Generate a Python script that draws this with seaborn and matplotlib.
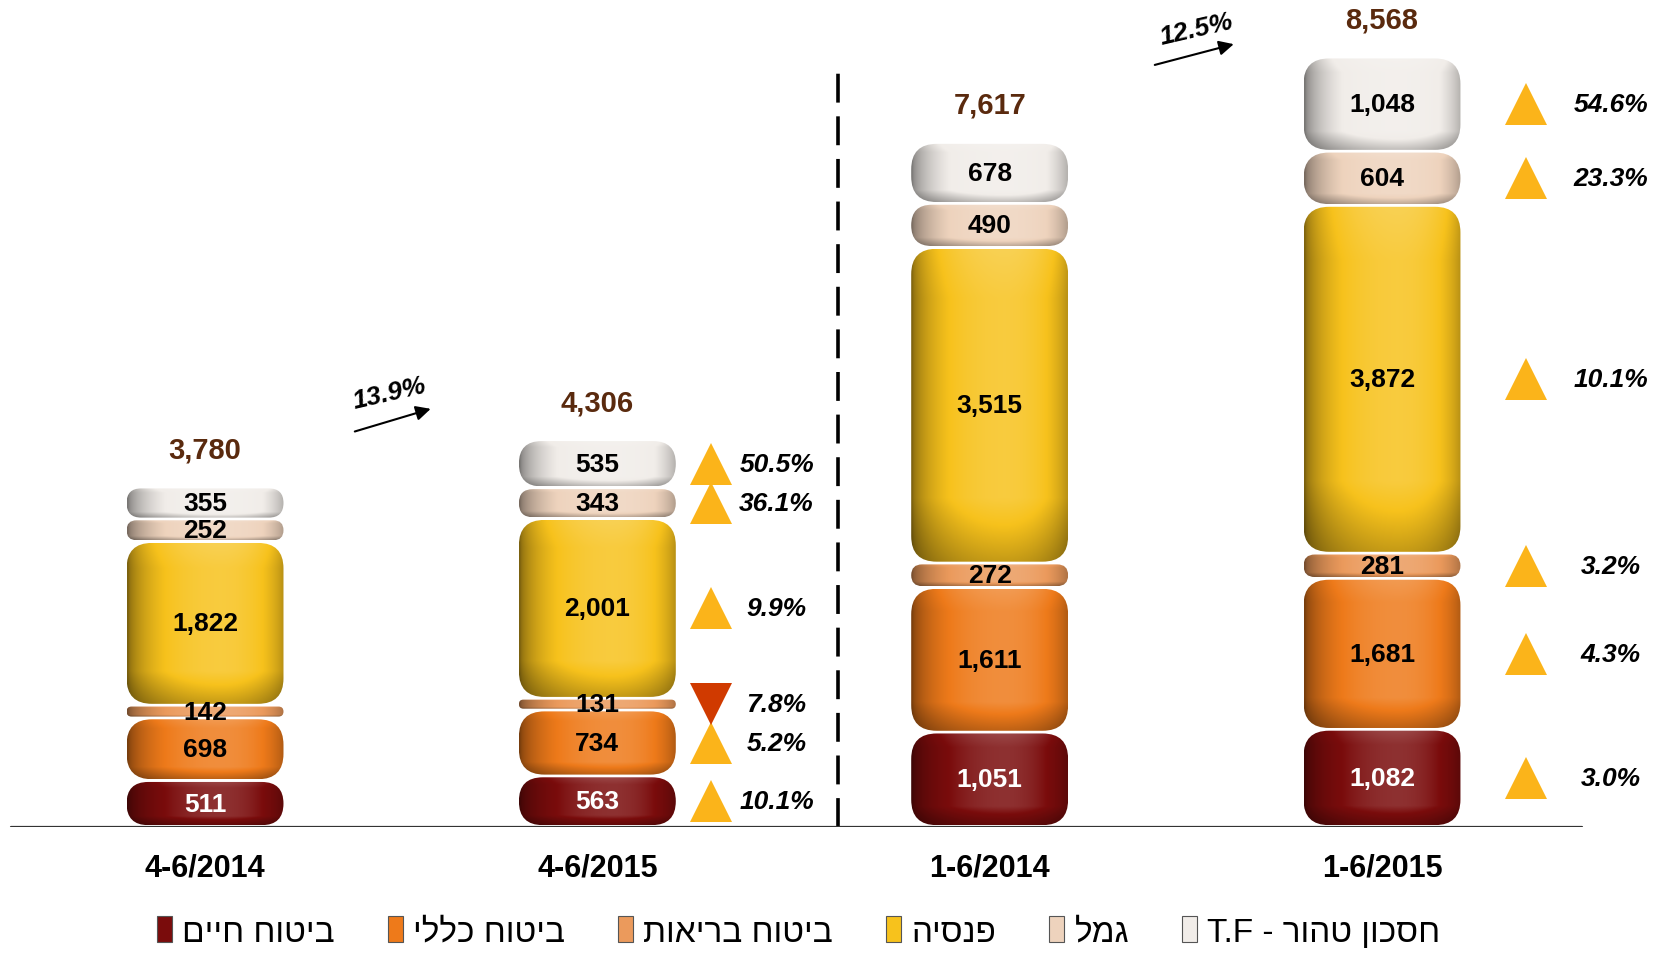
import re
import numpy as np
import matplotlib
matplotlib.use('Agg')
import matplotlib.pyplot as plt
import seaborn as sns
from matplotlib.patches import FancyBboxPatch, Patch
from matplotlib.colors import to_rgb

# data
periods = ['4-6/2014', '4-6/2015', '1-6/2014', '1-6/2015']
series = ['ביטוח חיים', 'ביטוח כללי', 'ביטוח בריאות', 'פנסיה', 'גמל', 'חסכון טהור - T.F']
life = [511, 563, 1051, 1082]
general = [698, 734, 1611, 1681]
health = [142, 131, 272, 281]
pension = [1822, 2001, 3515, 3872]
provident = [252, 343, 490, 604]
savings = [355, 535, 678, 1048]
totals = [3780, 4306, 7617, 8568]
growth = ['13.9%', '12.5%']
change_q = [10.1, 5.2, -7.8, 9.9, 36.1, 50.5]    # 4-6/2015 vs 4-6/2014
change_h = [3.0, 4.3, 3.2, 10.1, 23.3, 54.6]     # 1-6/2015 vs 1-6/2014

colors = ['#7a0c0c', '#ee7a1a', '#eb9a5c', '#f7c21c', '#eed3bd', '#f1ede9']
label_colors = ['white', 'black', 'black', 'black', 'black', 'black']

sns.set_theme(style='white')
plt.rcParams['font.family'] = ['Liberation Sans', 'DejaVu Sans']
plt.rcParams['text.color'] = 'black'


def visual(s):
    # simple bidi: reverse hebrew, keep latin/digit runs in order
    r = s[::-1]
    return re.sub(r'[A-Za-z0-9.%]+', lambda m: m.group(0)[::-1], r)


def shade_img(color, n=80):
    c = np.array(to_rgb(color))
    t = np.linspace(0, 1, n)
    d = np.where(t < 0.6, (t - 0.6) / 0.6, (t - 0.6) / 0.45)
    m = 0.5 + 0.65 * np.clip(1 - d ** 2, 0, 1) ** 0.6
    v = np.linspace(0, 1, n)
    vm = 1 - 0.3 * np.clip(1 - v / 0.2, 0, 1) + 0.08 * np.clip((v - 0.85) / 0.15, 0, 1)
    M = (vm[:, None] * m[None, :])[..., None]
    img = np.where(M <= 1, c * M, c + (1 - c) * (M - 1))
    return np.clip(img, 0, 1)


W, H = 1657, 954
fig = plt.figure(figsize=(W / 100, H / 100), dpi=100)
base_px = 827.5
ax = fig.add_axes([0, (H - base_px) / H, 1, base_px / H])
xlim = (-0.5226, 3.701)
ylim = (0, 9215)

x = np.arange(len(periods))
layers = [life, general, health, pension, provident, savings]

px_x = W / (xlim[1] - xlim[0])
px_y = base_px / (ylim[1] - ylim[0])
aspect = px_x / px_y
r_round = 0.065
gap = 15

bottom = np.zeros(len(periods))
for k, (vals, col) in enumerate(zip(layers, colors)):
    bars = ax.bar(x, vals, bottom=bottom, width=0.4, color=col)
    img = shade_img(col)
    for rect, v in zip(bars, vals):
        rect.set_visible(False)
        x0, y0, w, h = rect.get_x(), rect.get_y(), rect.get_width(), rect.get_height()
        y0g, hg = y0 + gap, h - 2 * gap
        r = min(r_round, (hg / aspect) / 2, w / 2)
        patch = FancyBboxPatch((x0, y0g), w, hg,
                               boxstyle=f'round,pad=0,rounding_size={r}',
                               mutation_aspect=aspect, facecolor='none',
                               edgecolor='none', zorder=2)
        ax.add_patch(patch)
        im = ax.imshow(img, extent=(x0, x0 + w, y0g, y0g + hg), origin='lower',
                       aspect='auto', interpolation='bilinear', zorder=2)
        im.set_clip_path(patch)
        ax.text(x0 + w / 2, y0 + h / 2, f'{v:,}', ha='center', va='center',
                fontsize=19, fontweight='bold', color=label_colors[k], zorder=4)
    bottom += np.array(vals)

# totals
for i, t in enumerate(totals):
    ax.annotate(f'{t:,}', xy=(i, t), xytext=(0, 27), textcoords='offset points',
                ha='center', va='center', fontsize=21, fontweight='bold', color='#5a2a0e')

# change markers next to bars 2 and 4
for bar_i, changes, tri_off, txt_off in [(1, change_q, 0.289, 0.457), (3, change_h, 0.366, 0.583)]:
    cum = np.cumsum([0] + [lay[bar_i] for lay in layers])
    for k, c in enumerate(changes):
        yc = (cum[k] + cum[k + 1]) / 2
        if c >= 0:
            ax.plot(bar_i + tri_off, yc, marker='^', markersize=30, color='#fbb41a',
                    markeredgewidth=0, linestyle='none')
        else:
            ax.plot(bar_i + tri_off, yc, marker='v', markersize=30, color='#d03a00',
                    markeredgewidth=0, linestyle='none')
        ax.text(bar_i + txt_off, yc, f'{abs(c):.1f}%', ha='center', va='center',
                fontsize=19, fontweight='bold', fontstyle='italic', color='black')

# growth arrows
for (xs, ys, xe, ye, xt, yt), g in zip([(0.375, 4390, 0.582, 4660, 0.47, 4830),
                                        (2.414, 8473, 2.629, 8720, 2.527, 8885)], growth):
    ax.annotate('', xy=(xe, ye), xytext=(xs, ys),
                arrowprops=dict(arrowstyle='-|>', color='black', lw=1.5, mutation_scale=22))
    ax.text(xt, yt, g, ha='center', va='center', rotation=13, fontsize=19,
            fontweight='bold', fontstyle='italic', color='black')

# dashed separator
ax.plot([1.614, 1.614], [0, 8450], color='black', lw=2.6, linestyle=(0, (8, 3.8)))

# baseline
ax.plot([-0.495, 3.51], [0, 0], color='#333333', lw=1.6, zorder=5)

ax.set_xlim(*xlim)
ax.set_ylim(*ylim)
ax.set_xticks(x, periods)
ax.tick_params(axis='x', length=0, pad=19, labelsize=22, labelcolor='black')
for lab in ax.get_xticklabels():
    lab.set_fontweight('bold')
ax.set_yticks([])
for s in ax.spines.values():
    s.set_visible(False)
ax.patch.set_alpha(0)

handles = [Patch(facecolor=c, edgecolor='#555555', linewidth=0.8) for c in colors]
fig.legend(handles, [visual(s) for s in series], loc='center', bbox_to_anchor=(0.482, 0.022),
           ncol=6, frameon=False, fontsize=24, handlelength=0.45, handleheight=0.8,
           handletextpad=0.3, columnspacing=1.6)

fig.savefig('out.png', dpi=100)
